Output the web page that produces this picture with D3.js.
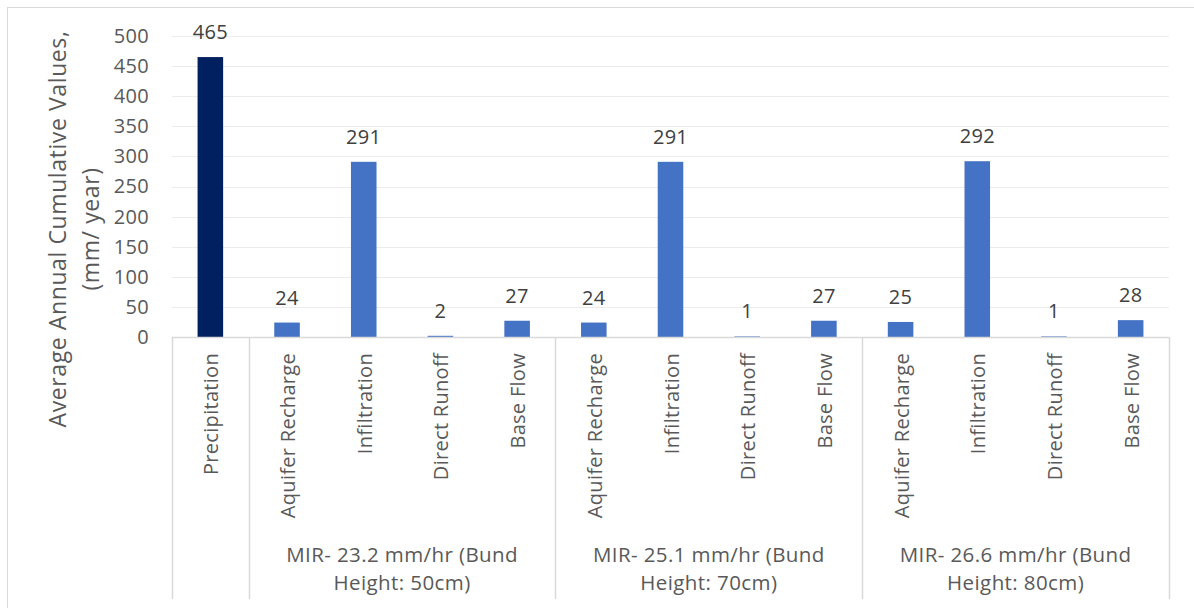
<!DOCTYPE html>
<html>
<head>
<meta charset="utf-8">
<script src="https://cdn.jsdelivr.net/npm/d3@7"></script>
<style>
  html, body { margin: 0; padding: 0; background: #ffffff; }
  svg { display: block; font-family: "Open Sans", "Noto Sans", sans-serif; }
</style>
</head>
<body>
<svg id="chart" width="1194" height="608"></svg>
<script>
// Water balance components (mm/year)
const precipitationLabel = "Precipitation";
const precipitationValue = 465;
const components = ["Aquifer Recharge", "Infiltration", "Direct Runoff", "Base Flow"];
const groupLabels = [
  ["MIR- 23.2 mm/hr (Bund", "Height: 50cm)"],
  ["MIR- 25.1 mm/hr (Bund", "Height: 70cm)"],
  ["MIR- 26.6 mm/hr (Bund", "Height: 80cm)"]
];
const mir232 = [24, 291, 2, 27];
const mir251 = [24, 291, 1, 27];
const mir266 = [25, 292, 1, 28];
const yTicks = [0, 50, 100, 150, 200, 250, 300, 350, 400, 450, 500];
const yTitle = ["Average Annual Cumulative Values,", "(mm/ year)"];

// Flatten into one row per bar
const groupValues = [mir232, mir251, mir266];
const rows = [{ id: "p", name: precipitationLabel, value: precipitationValue, group: -1 }];
groupValues.forEach((vals, g) => {
  vals.forEach((v, i) => rows.push({ id: g + "-" + i, name: components[i], value: v, group: g }));
});

const svg = d3.select("#chart");
const plot = { left: 172, right: 1169, top: 36, bottom: 337, axisBottom: 599 };

const x = d3.scaleBand()
  .domain(rows.map(d => d.id))
  .range([plot.left, plot.right])
  .paddingInner(2 / 3)
  .paddingOuter(1 / 3);
const y = d3.scaleLinear().domain([0, 500]).range([plot.bottom, plot.top]);

// Chart frame
svg.append("rect")
  .attr("x", 7.5).attr("y", 7.5)
  .attr("width", 1200).attr("height", 620)
  .attr("fill", "#ffffff").attr("stroke", "#d9d9d9").attr("stroke-width", 1);

// Gridlines
svg.append("g")
  .selectAll("line")
  .data(yTicks.filter(t => t > 0))
  .join("line")
  .attr("x1", plot.left).attr("x2", plot.right)
  .attr("y1", d => Math.round(y(d)) + 0.5).attr("y2", d => Math.round(y(d)) + 0.5)
  .attr("stroke", "#ececec").attr("stroke-width", 1);

// Y axis tick labels
const yAxis = d3.axisLeft(y).tickValues(yTicks).tickSize(0).tickPadding(0);
const gy = svg.append("g").attr("transform", "translate(149,0)").call(yAxis);
gy.select(".domain").remove();
gy.selectAll("text")
  .attr("font-family", "\"Open Sans\", sans-serif")
  .attr("font-size", 20).attr("letter-spacing", 0.3).attr("fill", "#595959");

// Y axis title
const title = svg.append("text")
  .attr("transform", "translate(0,229) rotate(-90)")
  .attr("text-anchor", "middle")
  .attr("font-size", 23).attr("letter-spacing", 0.6).attr("fill", "#595959");
title.selectAll("tspan").data(yTitle).join("tspan")
  .attr("x", 0).attr("y", (d, i) => 66 + i * 33)
  .text(d => d);

// Bars
svg.append("g")
  .selectAll("rect")
  .data(rows)
  .join("rect")
  .attr("x", d => x(d.id))
  .attr("width", x.bandwidth())
  .attr("y", d => y(d.value))
  .attr("height", d => y(0) - y(d.value))
  .attr("fill", d => d.group < 0 ? "#002060" : "#4472c4");

// Data labels
svg.append("g")
  .selectAll("text")
  .data(rows)
  .join("text")
  .attr("x", d => x(d.id) + x.bandwidth() / 2)
  .attr("y", d => y(d.value) - 18)
  .attr("text-anchor", "middle")
  .attr("font-size", 20).attr("letter-spacing", 0.3).attr("fill", "#404040")
  .text(d => d.value);

// Category axis line
svg.append("line")
  .attr("x1", plot.left).attr("x2", plot.right)
  .attr("y1", plot.bottom + 0.5).attr("y2", plot.bottom + 0.5)
  .attr("stroke", "#d9d9d9").attr("stroke-width", 1.5);

// Group separators (outer edges of each category block)
const firstIds = ["p", "0-0", "1-0", "2-0"];
const boundaries = firstIds.map(id => x(id) - (x.step() - x.bandwidth()) / 2).concat([plot.right]);
svg.append("g")
  .selectAll("line")
  .data(boundaries)
  .join("line")
  .attr("x1", d => Math.round(d) + 0.5).attr("x2", d => Math.round(d) + 0.5)
  .attr("y1", plot.bottom).attr("y2", plot.axisBottom)
  .attr("stroke", "#d9d9d9").attr("stroke-width", 1.5);

// Category labels (rotated)
svg.append("g")
  .selectAll("text")
  .data(rows)
  .join("text")
  .attr("transform", d => `translate(${x(d.id) + x.bandwidth() / 2 + 1},353) rotate(-90)`)
  .attr("text-anchor", "end")
  .attr("dy", "0.35em")
  .attr("font-size", 20).attr("letter-spacing", 0.3).attr("fill", "#595959")
  .text(d => d.name);

// Group labels
const groupG = svg.append("g");
groupLabels.forEach((lines, g) => {
  const cx = (boundaries[g + 1] + boundaries[g + 2]) / 2;
  const t = groupG.append("text")
    .attr("text-anchor", "middle")
    .attr("font-size", 20.5).attr("letter-spacing", 0.4).attr("fill", "#595959");
  t.selectAll("tspan").data(lines).join("tspan")
    .attr("x", cx).attr("y", (d, i) => 562 + i * 28)
    .text(d => d);
});
</script>
</body>
</html>
